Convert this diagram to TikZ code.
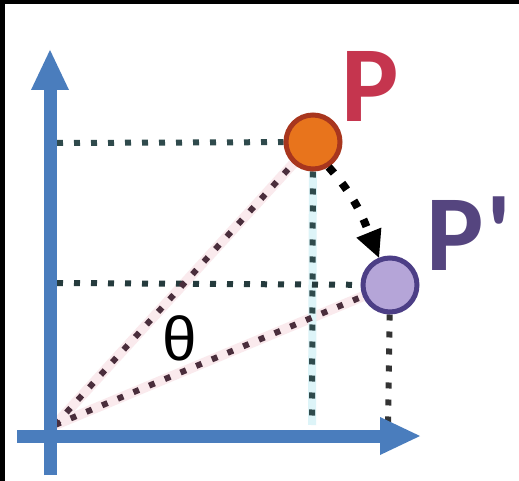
\documentclass[tikz,border=0pt]{standalone}
\usepackage{fontspec}
\setmainfont{Liberation Sans}
\newfontfamily\labelfont{Carlito}
\usetikzlibrary{arrows.meta}
\definecolor{axisblue}{HTML}{4A7DBD}
\definecolor{tealdot}{HTML}{2F4A4C}
\definecolor{mauvedot}{HTML}{4A2E3C}
\definecolor{greydot}{HTML}{333333}
\definecolor{pinkglow}{HTML}{FAEAED}
\definecolor{cyanglow}{HTML}{DDF4F8}
\definecolor{porange}{HTML}{E8741C}
\definecolor{pedge}{HTML}{A8361E}
\definecolor{plilac}{HTML}{B5A5D8}
\definecolor{pledge}{HTML}{4C3E86}
\definecolor{plabel}{HTML}{C5354E}
\definecolor{pplabel}{HTML}{55457F}
\tikzset{
  dotline/.style={line width=6pt, dash pattern=on 6pt off 11pt},
  glow/.style={line width=10pt},
  axisline/.style={line width=13pt, draw=axisblue, -{Triangle[length=40pt,width=38pt,line width=0pt]}},
  pointdot/.style={circle, minimum size=54pt, inner sep=0pt, line width=5pt},
  arrowdots/.style={line width=8pt, dash pattern=on 8pt off 13pt, -{Triangle[length=27pt,width=27pt,line width=0pt]}},
  biglabel/.style={inner sep=0pt, font=\labelfont\fontsize{108}{108}\selectfont\bfseries},
}
\begin{document}
\begin{tikzpicture}[x=1pt,y=-1pt]
\useasboundingbox (0,0) rectangle (519,481);
\fill[black] (0,0) rectangle (519,481);
\fill[white] (5,4) rectangle (519,481);

% coordinates
\coordinate (O) at (55,425);
\coordinate (yP) at (57,143);
\coordinate (xP) at (312,425);
\coordinate (yQ) at (57,283);
\coordinate (xQ) at (388,425);
\coordinate (ybot) at (50,475);
\coordinate (ytop) at (50,50);
\coordinate (xleft) at (17,436);
\coordinate (xright) at (420,436);

% point nodes (placed first for clipping)
\node[pointdot] (P) at (313,142) {};
\node[pointdot] (Q) at (390,285) {};

% glows
\draw[glow, pinkglow] (O) -- (P);
\draw[glow, pinkglow] (O) -- (Q);
\draw[line width=8pt, cyanglow] (P) -- (xP);

% dotted guide lines
\draw[dotline, tealdot] (yP) -- (P);
\draw[dotline, tealdot] (P) -- (xP);
\draw[dotline, tealdot!80!black] (yQ) -- (Q);
\draw[dotline, greydot] (Q) -- (xQ);
\draw[dotline, mauvedot] (O) -- (P);
\draw[dotline, mauvedot] (O) -- (Q);

% axes
\draw[axisline] (ybot) -- (ytop);
\draw[axisline] (xleft) -- (xright);

% points drawn on top
\node[pointdot, fill=porange, draw=pedge] at (P) {};
\node[pointdot, fill=plilac, draw=pledge] at (Q) {};

% rotation arrow
\draw[arrowdots, black] (P.-58) to[out=-48,in=112] (Q.112);

% labels
\node[biglabel, text=plabel, anchor=base west] (lP) at (341,122) {P};
\node[biglabel, text=pplabel, anchor=base west] (lQ) at (426,270) {P\kern3pt\textquotesingle};
\node[inner sep=0pt, font=\fontsize{62}{62}\selectfont] (th) at (180,338) {θ};
\end{tikzpicture}
\end{document}
